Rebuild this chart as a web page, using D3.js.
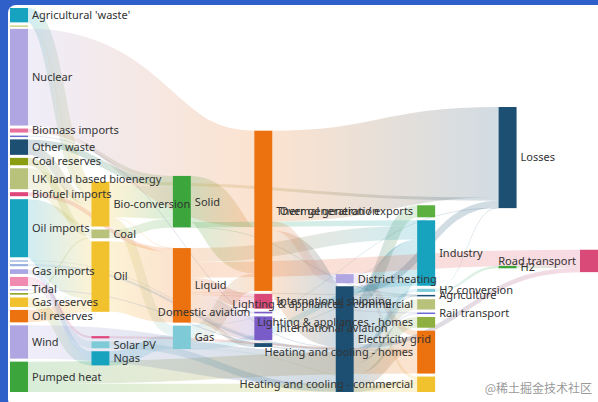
<!DOCTYPE html>
<html>
<head>
<meta charset="utf-8">
<title>Energy Sankey</title>
<style>
  body { margin:0; background:#2f5fc8; }
  text { font-family: "Noto Sans", sans-serif; }
</style>
</head>
<body>
<script src="https://cdn.jsdelivr.net/npm/d3@7"></script>
<script>
// node names by column (top to bottom), their colours
var col0 = ["Agricultural 'waste'","Marine algae","Nuclear","Biomass imports","Geothermal","Other waste","Coal reserves","UK land based bioenergy","Biofuel imports","Oil imports","Hydro","Wave","Gas imports","Solar","Tidal","Coal imports","Gas reserves","Oil reserves","Wind","Pumped heat"];
var col1 = ["Bio-conversion","Coal","Oil","Solar Thermal","Solar PV","Ngas"];
var col2 = ["Solid","Liquid","Gas"];
var col3 = ["Thermal generation","International shipping","Domestic aviation","International aviation","National navigation"];
var col4 = ["District heating","Electricity grid"];
var col5 = ["Over generation / exports","Industry","H2 conversion","Agriculture","Lighting & appliances - commercial","Rail transport","Lighting & appliances - homes","Heating and cooling - homes","Heating and cooling - commercial"];
var col6 = ["Losses","H2"];
var col7 = ["Road transport"];

var nodeColors = {
  "Agricultural 'waste'":"#15a3c0","Marine algae":"#c8d48a","Nuclear":"#b0a6e2","Biomass imports":"#e8709a",
  "Geothermal":"#6a6ad0","Other waste":"#1c4f72","Coal reserves":"#8a9c10","UK land based bioenergy":"#b8c27a",
  "Biofuel imports":"#e0457b","Oil imports":"#17a2be","Hydro":"#a7b8e8","Wave":"#9ab0e0","Gas imports":"#a9a6e6",
  "Solar":"#f08ab0","Tidal":"#b0a6e2","Coal imports":"#8a9c10","Gas reserves":"#f2c12e","Oil reserves":"#ec7210",
  "Wind":"#b0a6e2","Pumped heat":"#3ca63c","Bio-conversion":"#f2c12e","Coal":"#b8c27a","Oil":"#f2c12e",
  "Solar Thermal":"#e0457b","Solar PV":"#7ecad6","Ngas":"#17a2be","Solid":"#3ca63c","Liquid":"#ec7210","Gas":"#7ecad6",
  "Thermal generation":"#ec7210","International shipping":"#d94a78","Domestic aviation":"#7a5cc8",
  "International aviation":"#7a5cc8","National navigation":"#1c4f72","District heating":"#b0a6e2",
  "Electricity grid":"#1c4f72","Over generation / exports":"#5cb040","Industry":"#17a2be","H2 conversion":"#7ecad6",
  "Agriculture":"#1c4f72","Lighting & appliances - commercial":"#b8c27a","Rail transport":"#6a6ad0",
  "Lighting & appliances - homes":"#8fb040","Heating and cooling - homes":"#ec7210",
  "Heating and cooling - commercial":"#f2c12e","Losses":"#1c4f72","H2":"#3ca63c","Road transport":"#d94a78"
};
var hiddenLabels = ["Marine algae","Geothermal","Hydro","Wave","Solar","Coal imports","Solar Thermal","National navigation"];
var leftLabels = ["Over generation / exports","Lighting & appliances - commercial","Lighting & appliances - homes","Heating and cooling - homes","Heating and cooling - commercial","Road transport","Domestic aviation"];

// flows: [source, target, value]
var flows = [
  ["Agricultural 'waste'","Bio-conversion",124.729],["Bio-conversion","Liquid",0.597],["Bio-conversion","Losses",26.862],
  ["Bio-conversion","Solid",280.322],["Bio-conversion","Gas",81.144],["Biofuel imports","Liquid",35],
  ["Biomass imports","Solid",35],["Coal imports","Coal",11.606],["Coal reserves","Coal",63.965],["Coal","Solid",75.571],
  ["District heating","Industry",10.639],["District heating","Heating and cooling - commercial",22.505],
  ["District heating","Heating and cooling - homes",46.184],["Electricity grid","Over generation / exports",104.453],
  ["Electricity grid","Heating and cooling - homes",113.726],["Electricity grid","H2 conversion",27.14],
  ["Electricity grid","Industry",342.165],["Electricity grid","Road transport",37.797],["Electricity grid","Agriculture",4.412],
  ["Electricity grid","Heating and cooling - commercial",40.858],["Electricity grid","Losses",56.691],
  ["Electricity grid","Rail transport",7.863],["Electricity grid","Lighting & appliances - commercial",90.008],
  ["Electricity grid","Lighting & appliances - homes",93.494],["Gas imports","Ngas",40.719],["Gas reserves","Ngas",82.233],
  ["Gas","Heating and cooling - commercial",0.129],["Gas","Losses",1.401],["Gas","Thermal generation",151.891],
  ["Gas","Agriculture",2.096],["Gas","Industry",48.58],["Geothermal","Electricity grid",7.013],["H2 conversion","H2",20.897],
  ["H2 conversion","Losses",6.242],["H2","Road transport",20.897],["Hydro","Electricity grid",6.995],
  ["Liquid","Industry",121.066],["Liquid","International shipping",128.69],["Liquid","Road transport",135.835],
  ["Liquid","Domestic aviation",14.458],["Liquid","International aviation",206.267],["Liquid","Agriculture",3.64],
  ["Liquid","National navigation",33.218],["Liquid","Rail transport",4.413],["Marine algae","Bio-conversion",4.375],
  ["Ngas","Gas",122.952],["Nuclear","Thermal generation",839.978],["Oil imports","Oil",504.287],["Oil reserves","Oil",107.703],
  ["Oil","Liquid",611.99],["Other waste","Solid",56.587],["Other waste","Bio-conversion",77.81],
  ["Pumped heat","Heating and cooling - homes",193.026],["Pumped heat","Heating and cooling - commercial",70.672],
  ["Solar PV","Electricity grid",59.901],["Solar Thermal","Heating and cooling - homes",19.263],["Solar","Solar Thermal",19.263],
  ["Solar","Solar PV",59.901],["Solid","Agriculture",0.882],["Solid","Thermal generation",400.12],["Solid","Industry",46.477],
  ["Thermal generation","Electricity grid",525.531],["Thermal generation","Losses",787.129],
  ["Thermal generation","District heating",79.329],["Tidal","Electricity grid",9.452],
  ["UK land based bioenergy","Bio-conversion",182.01],["Wave","Electricity grid",19.013],["Wind","Electricity grid",289.366]
];

var W = 598, H = 402, yTop = 8, yBottom = 392, xLeft = 10, xRight = 598, nodeW = 18, gap = 3;

var svg = d3.select("body").append("svg").attr("width", W).attr("height", H).style("display","block");
svg.append("rect").attr("width", W).attr("height", H).attr("fill", "#2f5fc8");
svg.append("rect").attr("x", 8).attr("y", 5).attr("width", W).attr("height", H).attr("rx", 8).attr("fill", "#fff");

// build graph
var columns = [col0,col1,col2,col3,col4,col5,col6,col7];
var nodes = {}, cols = [];
columns.forEach(function(c, d){
  cols.push(c.map(function(name){
    nodes[name] = {name:name, depth:d, inL:[], outL:[]};
    return nodes[name];
  }));
});
var links = flows.map(function(f){
  var l = {source:nodes[f[0]], target:nodes[f[1]], value:f[2]};
  l.source.outL.push(l); l.target.inL.push(l);
  return l;
});
var nodeList = Object.keys(nodes).map(function(k){ return nodes[k]; });
nodeList.forEach(function(n){
  n.value = Math.max(d3.sum(n.inL, function(l){ return l.value; }), d3.sum(n.outL, function(l){ return l.value; }));
});

var xScale = d3.scaleLinear().domain([0, columns.length - 1]).range([xLeft, xRight - nodeW]);
var ky = d3.min(cols, function(c){ return (yBottom - yTop - (c.length - 1) * gap) / d3.sum(c, function(n){ return n.value; }); });
var hScale = d3.scaleLinear().domain([0, 1]).range([0, ky]);

cols.forEach(function(c){
  var y = yTop;
  c.forEach(function(n){
    n.x0 = xScale(n.depth); n.x1 = n.x0 + nodeW;
    n.y0 = y; n.y1 = y + hScale(n.value); y = n.y1 + gap;
  });
});

function resolve(c){
  var y = yTop;
  c.forEach(function(n){ var dy = y - n.y0; if (dy > 0) { n.y0 += dy; n.y1 += dy; } y = n.y1 + gap; });
  y = yBottom;
  c.slice().reverse().forEach(function(n){ var dy = n.y1 - y; if (dy > 0) { n.y0 -= dy; n.y1 -= dy; } y = n.y0 - gap; });
}
function center(n){ return (n.y0 + n.y1) / 2; }
for (var it = 0; it < 32; it++) {
  var alpha = Math.pow(0.99, it);
  for (var d = 1; d < cols.length; d++) {
    cols[d].forEach(function(n){
      if (!n.inL.length) return;
      var c = d3.sum(n.inL, function(l){ return center(l.source) * l.value; }) / d3.sum(n.inL, function(l){ return l.value; });
      var dy = (c - center(n)) * alpha; n.y0 += dy; n.y1 += dy;
    });
    resolve(cols[d]);
  }
  for (var d = cols.length - 2; d >= 0; d--) {
    cols[d].forEach(function(n){
      if (!n.outL.length) return;
      var c = d3.sum(n.outL, function(l){ return center(l.target) * l.value; }) / d3.sum(n.outL, function(l){ return l.value; });
      var dy = (c - center(n)) * alpha; n.y0 += dy; n.y1 += dy;
    });
    resolve(cols[d]);
  }
}

// link offsets
nodeList.forEach(function(n){
  var y = n.y0;
  n.outL.sort(function(a,b){ return a.target.y0 - b.target.y0; }).forEach(function(l){ l.w = hScale(l.value); l.sy = y + l.w/2; y += l.w; });
  y = n.y0;
  n.inL.sort(function(a,b){ return a.source.y0 - b.source.y0; }).forEach(function(l){ var w = hScale(l.value); l.ty = y + w/2; y += w; });
});

var defs = svg.append("defs");
links.forEach(function(l, i){
  var g = defs.append("linearGradient").attr("id", "g" + i).attr("gradientUnits", "userSpaceOnUse")
    .attr("x1", l.source.x1).attr("x2", l.target.x0);
  g.append("stop").attr("offset", "0%").attr("stop-color", nodeColors[l.source.name]);
  g.append("stop").attr("offset", "100%").attr("stop-color", nodeColors[l.target.name]);
});

var linkGen = d3.linkHorizontal().x(function(d){ return d[0]; }).y(function(d){ return d[1]; });
svg.append("g").attr("fill", "none").attr("stroke-opacity", 0.2)
  .selectAll("path").data(links).enter().append("path")
  .attr("d", function(l){ return linkGen({source:[l.source.x1, l.sy], target:[l.target.x0, l.ty]}); })
  .attr("stroke", function(l, i){ return "url(#g" + i + ")"; })
  .attr("stroke-width", function(l){ return Math.max(0.8, l.w); });

svg.append("g").selectAll("rect").data(nodeList).enter().append("rect")
  .attr("x", function(n){ return n.x0; }).attr("y", function(n){ return n.y0; })
  .attr("width", nodeW).attr("height", function(n){ return Math.max(1.5, n.y1 - n.y0); })
  .attr("fill", function(n){ return nodeColors[n.name]; });

svg.append("g").selectAll("text").data(nodeList.filter(function(n){ return hiddenLabels.indexOf(n.name) < 0; }))
  .enter().append("text")
  .attr("x", function(n){ return leftLabels.indexOf(n.name) >= 0 ? n.x0 - 4 : n.x1 + 4; })
  .attr("y", function(n){ return center(n); })
  .attr("dy", "0.35em")
  .attr("text-anchor", function(n){ return leftLabels.indexOf(n.name) >= 0 ? "end" : "start"; })
  .style("font-size", "11px").attr("fill", "#333")
  .text(function(n){ return n.name; });

svg.append("text").attr("x", 592).attr("y", 393).attr("text-anchor", "end")
  .style("font-family", "'Noto Sans CJK SC'").style("font-size", "12px").attr("fill", "#999")
  .text("@稀土掘金技术社区");
</script>
</body>
</html>
